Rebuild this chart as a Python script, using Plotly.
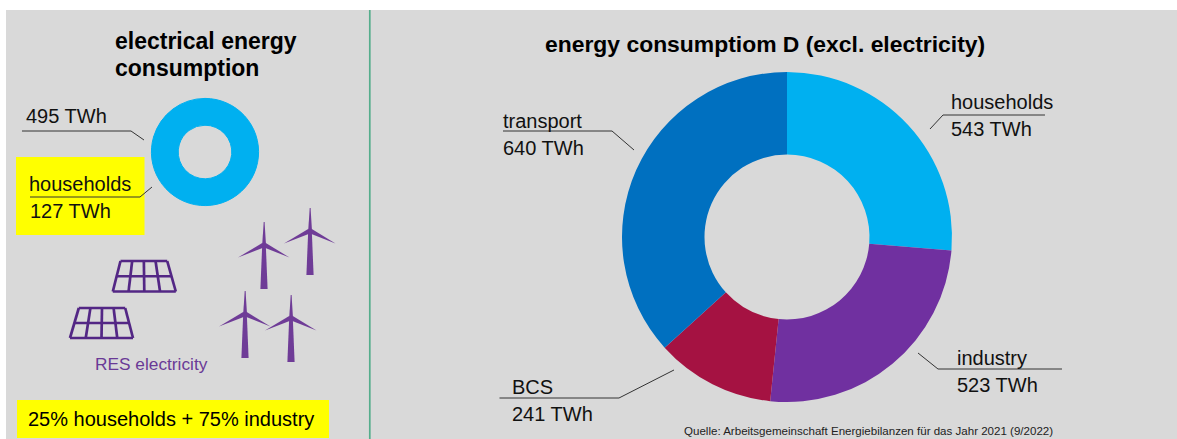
import plotly.graph_objects as go

W, H = 1177, 439

# data
main_categories = ["households", "industry", "BCS", "transport"]
main_slice_values = [543, 523, 241, 758]
main_label_values = [543, 523, 241, 640]
main_colors = ["#00B0F0", "#7030A0", "#A51242", "#0070C0"]
elec_categories = ["other", "households"]
elec_values = [495, 127]
elec_colors = ["#00B0F0", "#00B0F0"]
title_main = "energy consumptiom D (excl. electricity)"
title_left = ["electrical energy", "consumption"]
source = "Quelle: Arbeitsgemeinschaft Energiebilanzen für das Jahr 2021 (9/2022)"
res_label = "RES electricity"
share_note = "25% households + 75% industry"

FONT = "Liberation Sans, Arial, sans-serif"
PURPLE = "#6F3C97"
PANEL = "#532785"


def px(x):
    return x / W


def py(y):
    return 1 - y / H


def dom(cx, cy, r):
    return dict(x=[px(cx - r), px(cx + r)], y=[py(cy + r), py(cy - r)])


def label(x, y, text, size=20, color="#111111", bold=False):
    return dict(
        x=px(x), y=py(y), xref="paper", yref="paper", xanchor="left", yanchor="middle",
        text=f"<b>{text}</b>" if bold else text, showarrow=False,
        font=dict(family=FONT, size=size, color=color), align="left",
    )


def path_px(points, close=False):
    s = "M " + " L ".join(f"{px(x):.5f} {py(y):.5f}" for x, y in points)
    return s + (" Z" if close else "")


def rect(x0, y0, x1, y1, color):
    return dict(type="rect", xref="paper", yref="paper", x0=px(x0), x1=px(x1), y0=py(y1), y1=py(y0),
                fillcolor=color, line=dict(width=0), layer="below")


def leader(points, color="#333333", width=1):
    return dict(type="path", xref="paper", yref="paper", path=path_px(points),
                line=dict(color=color, width=width), layer="above")


def turbine(cx, cy):
    out = []
    polys = [
        [(cx - 1.8, cy), (cx - 0.3, cy - 23), (cx + 0.6, cy - 23), (cx + 2, cy)],
        [(cx - 1.4, cy - 2.2), (cx - 26, cy + 12.5), (cx + 0.5, cy + 2.2)],
        [(cx + 1.4, cy - 2.2), (cx + 25.5, cy + 12.5), (cx - 0.5, cy + 2.2)],
        [(cx - 1.8, cy), (cx + 1.8, cy), (cx + 3.6, cy + 44), (cx - 3.6, cy + 44)],
    ]
    for p in polys:
        out.append(dict(type="path", xref="paper", yref="paper", path=path_px(p, True),
                        fillcolor=PURPLE, line=dict(width=0), layer="above"))
    return out


def solar(tl, tr, bl, br):
    out = []
    lw = 2.7
    ym = (tl[1] + bl[1]) / 2
    for t in range(5):
        f = t / 4
        top = (tl[0] + (tr[0] - tl[0]) * f, tl[1])
        bot = (bl[0] + (br[0] - bl[0]) * f, bl[1])
        out.append(leader([top, bot], PANEL, lw))
    out.append(leader([tl, tr], PANEL, lw))
    out.append(leader([bl, br], PANEL, lw))
    out.append(leader([((tl[0] + bl[0]) / 2, ym), ((tr[0] + br[0]) / 2, ym)], PANEL, lw))
    return out


shapes = [
    rect(6, 10, W, H, "#D9D9D9"),
    rect(16, 157, 144.5, 235, "#FFFF00"),
    rect(17, 400, 329, 438, "#FFFF00"),
    leader([(369.8, 10), (369.8, H)], "#55AD8C", 1.7),
    leader([(22, 131), (131, 131), (144, 140)]),
    leader([(30, 197), (140, 197), (152, 187)]),
    leader([(1045, 115), (943, 115), (930, 129)]),
    leader([(503, 131), (612, 131), (634, 150)]),
    leader([(918, 353), (938, 369), (1062, 369)]),
    leader([(499.5, 398), (619, 398), (674, 370)]),
]
for hub in [(264, 245), (310, 231), (245, 314), (291, 318)]:
    shapes += turbine(*hub)
shapes += solar((120.5, 261), (167.2, 261), (112.8, 291.5), (175.8, 291.5))
shapes += solar((78.8, 308), (125.2, 308), (70, 338), (133, 338))

annotations = [
    label(113, 41, title_left[0], 23, "#000000", True),
    label(113, 68, title_left[1], 23, "#000000", True),
    label(543, 44, title_main, 22.9, "#000000", True),
    label(24, 116, f"{elec_values[0]} TWh"),
    label(27, 184, elec_categories[1]),
    label(28, 211, f"{elec_values[1]} TWh"),
    label(501, 121, main_categories[3]),
    label(501, 148, f"{main_label_values[3]} TWh"),
    label(949, 102, main_categories[0]),
    label(949, 129, f"{main_label_values[0]} TWh"),
    label(510, 387, main_categories[2]),
    label(510, 414, f"{main_label_values[2]} TWh"),
    label(955, 358, main_categories[1]),
    label(955, 385, f"{main_label_values[1]} TWh"),
    label(93, 364, res_label, 17.3, "#6A3A96"),
    label(26, 419, share_note, 20, "#000000"),
    label(682, 431, source, 11.55, "#222222"),
]

fig = go.Figure()
fig.add_trace(go.Pie(labels=main_categories, values=main_slice_values, hole=0.5, sort=False,
                     direction="clockwise", rotation=0, marker=dict(colors=main_colors, line=dict(width=0)),
                     textinfo="none", hoverinfo="label", domain=dom(787, 237, 165), showlegend=False))
fig.add_trace(go.Pie(labels=elec_categories, values=elec_values, hole=0.5, sort=False,
                     direction="clockwise", rotation=0,
                     marker=dict(colors=elec_colors, line=dict(width=1, color="#00B0F0")),
                     textinfo="none", hoverinfo="label+value", domain=dom(205, 152, 53.6), showlegend=False))
fig.update_layout(width=W, height=H, margin=dict(l=0, r=0, t=0, b=0), paper_bgcolor="#FFFFFF",
                  plot_bgcolor="rgba(0,0,0,0)", showlegend=False, shapes=shapes, annotations=annotations)
fig.write_html("out.html", config=dict(displayModeBar=False),
               post_script="document.body.style.margin='0';document.body.style.overflow='hidden';")
